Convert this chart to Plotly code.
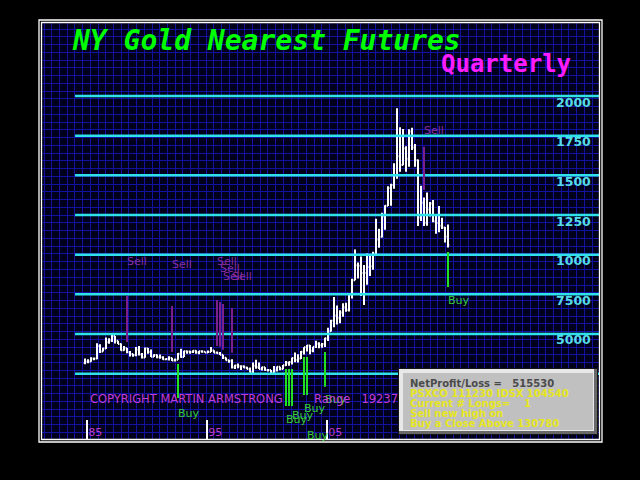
import plotly.graph_objects as go

# ---------------- data ----------------
quarters = [f"{y}Q{q}" for y in range(1985, 2016) for q in range(1, 5)][2:]  # 1985Q3 .. 2015Q4

opens = [317, 326, 327, 345, 345, 424, 390, 409, 448, 459,
         487, 457, 437, 397, 410, 385, 374, 367, 403, 370,
         352, 408, 386, 356, 367, 354, 353, 340, 343, 349,
         333, 338, 376, 355, 391, 390, 386, 395, 383, 391,
         388, 384, 387, 396, 382, 379, 369, 350, 334, 332,
         290, 301, 296, 296, 288, 280, 261, 299, 290, 279,
         290, 273, 273, 258, 270, 293, 279, 303, 318, 324,
         348, 336, 346, 388, 416, 427, 395, 420, 438, 429,
         437, 473, 518, 584, 616, 599, 636, 669, 652, 748,
         838, 933, 930, 884, 884, 922, 927, 1008, 1096, 1113,
         1244, 1308, 1421, 1439, 1500, 1620, 1566, 1669, 1604, 1776,
         1675, 1595, 1234, 1327, 1202, 1284, 1322, 1210, 1199, 1183,
         1172, 1114]
highs = [345, 340, 354, 350, 442, 435, 413, 478, 473, 502,
         487, 458, 440, 425, 412, 392, 375, 418, 425, 380,
         415, 412, 403, 372, 370, 370, 360, 345, 360, 350,
         345, 380, 407, 395, 395, 394, 398, 397, 393, 397,
         390, 396, 418, 397, 390, 386, 369, 352, 336, 340,
         306, 314, 300, 302, 293, 288, 320, 338, 320, 294,
         291, 274, 273, 298, 295, 293, 305, 330, 327, 350,
         384, 372, 392, 417, 430, 430, 420, 457, 448, 443,
         476, 540, 590, 733, 680, 650, 693, 697, 750, 848,
         1033, 950, 988, 935, 1007, 992, 1019, 1227, 1163, 1265,
         1311, 1432, 1447, 1577, 1923, 1803, 1792, 1683, 1790, 1800,
         1698, 1600, 1434, 1361, 1392, 1332, 1345, 1255, 1307, 1232,
         1175, 1191]
lows = [310, 316, 325, 335, 340, 380, 390, 405, 439, 450,
        440, 437, 395, 395, 378, 358, 356, 360, 365, 345,
        350, 375, 355, 355, 347, 344, 337, 334, 333, 330,
        326, 337, 350, 355, 375, 375, 380, 375, 372, 381,
        381, 381, 387, 381, 378, 367, 343, 333, 318, 282,
        280, 284, 273, 284, 278, 257, 252, 281, 279, 270,
        268, 264, 256, 255, 264, 271, 277, 298, 300, 308,
        322, 320, 342, 370, 390, 372, 385, 412, 410, 413,
        418, 456, 516, 543, 560, 567, 608, 640, 642, 723,
        838, 850, 740, 682, 810, 865, 905, 1000, 1044, 1108,
        1157, 1307, 1308, 1415, 1478, 1522, 1563, 1522, 1555, 1660,
        1554, 1180, 1212, 1180, 1182, 1240, 1205, 1132, 1142, 1162,
        1077, 1046]
closes = [326, 327, 345, 345, 424, 390, 409, 448, 459, 487,
          457, 437, 397, 410, 385, 374, 367, 403, 370, 352,
          408, 386, 356, 367, 354, 353, 340, 343, 349, 333,
          338, 376, 355, 391, 390, 386, 395, 383, 391, 388,
          384, 387, 396, 382, 379, 369, 350, 334, 332, 290,
          301, 296, 296, 288, 280, 261, 299, 290, 279, 290,
          273, 273, 258, 270, 293, 279, 303, 318, 324, 348,
          336, 346, 388, 416, 427, 395, 420, 438, 429, 437,
          473, 518, 584, 616, 599, 636, 669, 652, 748, 838,
          933, 930, 884, 884, 922, 927, 1008, 1096, 1113, 1244,
          1308, 1421, 1439, 1500, 1620, 1566, 1669, 1604, 1776, 1675,
          1595, 1234, 1327, 1202, 1284, 1322, 1210, 1199, 1183, 1172,
          1114, 1061]

levels = [2000, 1750, 1500, 1250, 1000, 750, 500, 250]
level_labels = ["2000", "1750", "1500", "1250", "1000", "7500", "5000", ""]
level_start = 1984.67

sell_q = ["1989Q1", "1992Q4", "1996Q3", "1996Q4", "1997Q1", "1997Q4", "2013Q4"]
sell_top = [740, 677, 715, 702, 689, 664, 1680]
sell_bottom = [450, 387, 425, 419, 400, 381, 1408]
sell_label = [960, 941, 960, 916, 865, 865, 1785]

buy_q = ["1993Q2", "2002Q2", "2002Q3", "2002Q4", "2003Q4", "2004Q1", "2005Q3", "2015Q4"]
buy_top = [311, 279, 279, 279, 355, 355, 386, 1017]
buy_bottom = [96, 46, 46, 46, 115, 115, 167, 796]
buy_label = [0, -36, None, -11, 33, -143, 84, 708]

year_ticks = [1985.7, 1995.7, 2005.7]
year_labels = ["85", "95", "05"]

info_lines = ["NetProfit/Loss =   515530", "PSXCO 111230 IDSX 104540",
              "Current # Longs=    1", "Sell new high on", "Buy a Close Above 130780"]


def qx(q):
    return int(q[:4]) + (int(q[-1]) - 1) * 0.25


xs = [qx(q) for q in quarters]

# ---------------- figure ----------------
W, H = 640, 480
L, R, T, B = 41, 40, 22, 40
XR = [1981.833, 2028.417]
YR = [-168.3, 2466.8]


def fx(px):
    return (px - L) / (W - L - R)


def fy(py):
    return (H - B - py) / (H - T - B)


fig = go.Figure()

# grid carrier (overlay axes in pixel units)
fig.add_trace(go.Scatter(x=[None], y=[None], xaxis="x2", yaxis="y2",
                         showlegend=False, hoverinfo="skip"))

# cyan reference lines
lx, ly = [], []
for lv in levels:
    lx += [level_start, XR[1], None]
    ly += [lv, lv, None]
fig.add_trace(go.Scatter(x=lx, y=ly, mode="lines", line=dict(color="#2fe2ea", width=2.5),
                         showlegend=False, hoverinfo="skip"))

# price bars
fig.add_trace(go.Ohlc(x=xs, open=opens, high=highs, low=lows, close=closes,
                      increasing=dict(line=dict(color="white", width=2)),
                      decreasing=dict(line=dict(color="white", width=2)),
                      tickwidth=0.4, showlegend=False, hoverinfo="skip"))

# signals
sx, sy = [], []
for q, t, b in zip(sell_q, sell_top, sell_bottom):
    sx += [qx(q), qx(q), None]
    sy += [t, b, None]
fig.add_trace(go.Scatter(x=sx, y=sy, mode="lines", line=dict(color="#7c1e8c", width=2),
                         showlegend=False, hoverinfo="skip"))
bx, by = [], []
for q, t, b in zip(buy_q, buy_top, buy_bottom):
    bx += [qx(q), qx(q), None]
    by += [t, b, None]
fig.add_trace(go.Scatter(x=bx, y=by, mode="lines", line=dict(color="#22e022", width=2),
                         showlegend=False, hoverinfo="skip"))

ann = []
for q, lab in zip(sell_q, sell_label):
    ann.append(dict(x=qx(q), y=lab, xref="x", yref="y", text="Sell", showarrow=False,
                    xanchor="left", yanchor="middle", xshift=-2,
                    font=dict(family="DejaVu Sans", size=11, color="#8a2e9c")))
for q, lab in zip(buy_q, buy_label):
    if lab is None:
        continue
    ann.append(dict(x=qx(q), y=lab, xref="x", yref="y", text="Buy", showarrow=False,
                    xanchor="left", yanchor="middle", xshift=-2,
                    font=dict(family="DejaVu Sans", size=11, color="#38cc38")))

for lv, lab in zip(levels, level_labels):
    if lab:
        ann.append(dict(x=fx(593), y=lv, xref="paper", yref="y", text=lab, showarrow=False,
                        xanchor="right", yanchor="middle", yshift=-6,
                        font=dict(family="DejaVu Sans", size=12.5, color="#55dce4", weight="bold")))

ann.append(dict(x=fx(70), y=fy(40), xref="paper", yref="paper", text="NY Gold Nearest Futures",
                showarrow=False, xanchor="left", yanchor="middle",
                font=dict(family="DejaVu Sans Mono", size=28, color="#00ff00",
                          weight="bold", style="italic")))
ann.append(dict(x=fx(439), y=fy(64), xref="paper", yref="paper", text="Quarterly",
                showarrow=False, xanchor="left", yanchor="middle",
                font=dict(family="DejaVu Sans Mono", size=24, color="#ff1cff", weight="bold")))

ann.append(dict(x=fx(88), y=fy(399), xref="paper", yref="paper", text="COPYRIGHT MARTIN ARMSTRONG",
                showarrow=False, xanchor="left", yanchor="middle",
                font=dict(family="DejaVu Sans", size=11.5, color="#c43cd4")))
ann.append(dict(x=fx(312), y=fy(399), xref="paper", yref="paper",
                text="Range\u00a0\u00a0\u00a019237.0",
                showarrow=False, xanchor="left", yanchor="middle",
                font=dict(family="DejaVu Sans", size=11.5, color="#c43cd4")))


def box(x0, y0, x1, y1, color):
    return dict(x=fx(x0), y=fy(y0), xref="paper", yref="paper", text=" ", showarrow=False,
                xanchor="left", yanchor="top", width=x1 - x0, height=y1 - y0,
                bgcolor=color, borderpad=0, borderwidth=0, font=dict(size=2))


ann.append(box(398, 368, 598, 435, "#141414"))
ann.append(box(399, 369, 597, 434, "#686868"))
ann.append(box(399, 369, 594, 431, "#e8e8e8"))
ann.append(box(403, 373, 593, 430, "#c0c0c0"))
for k, line in enumerate(info_lines):
    ann.append(dict(x=fx(408), y=fy(383 + 10 * k), xref="paper", yref="paper",
                    text=line.replace(" ", "\u00a0"), showarrow=False,
                    xanchor="left", yanchor="middle",
                    font=dict(family="DejaVu Sans", size=10, weight="bold",
                              color="#4a4a4a" if k == 0 else "#e6e61e")))

shapes = []
for (x0, y0, x1, y1) in [(41.5, 22.5, 599.5, 439.5), (39, 20, 602, 442)]:
    shapes.append(dict(type="rect", xref="paper", yref="paper",
                       x0=fx(x0), x1=fx(x1), y0=fy(y0), y1=fy(y1),
                       line=dict(color="white", width=1.3), layer="above"))

fig.update_layout(
    width=W, height=H, margin=dict(l=L, r=R, t=T, b=B, pad=0),
    paper_bgcolor="black", plot_bgcolor="#00001c", showlegend=False,
    annotations=ann, shapes=shapes,
    xaxis=dict(range=XR, showgrid=False, zeroline=False, showline=False,
               ticks="inside", ticklen=20, tickwidth=1.5, tickcolor="white",
               tickvals=year_ticks, ticktext=year_labels,
               ticklabelposition="inside right", ticklabelstandoff=-4,
               tickfont=dict(family="DejaVu Sans", size=11, color="#c03cc8"),
               rangeslider=dict(visible=False), fixedrange=True),
    yaxis=dict(range=YR, showgrid=False, zeroline=False, showticklabels=False,
               ticks="", fixedrange=True),
    xaxis2=dict(overlaying="x", anchor="y2", range=[L, W - R], showgrid=True,
                gridcolor="#1212a0", gridwidth=1, tick0=44, dtick=7.72,
                showticklabels=False, ticks="", zeroline=False, showline=False),
    yaxis2=dict(overlaying="y", anchor="x2", range=[H - B, T], showgrid=True,
                gridcolor="#1212a0", gridwidth=1, tick0=29, dtick=7.758,
                showticklabels=False, ticks="", zeroline=False, showline=False),
)

fig.write_html("out.html", config={"displayModeBar": False},
               post_script="document.body.style.margin='0';"
                           "document.body.style.background='black';"
                           "document.body.style.overflow='hidden';")
